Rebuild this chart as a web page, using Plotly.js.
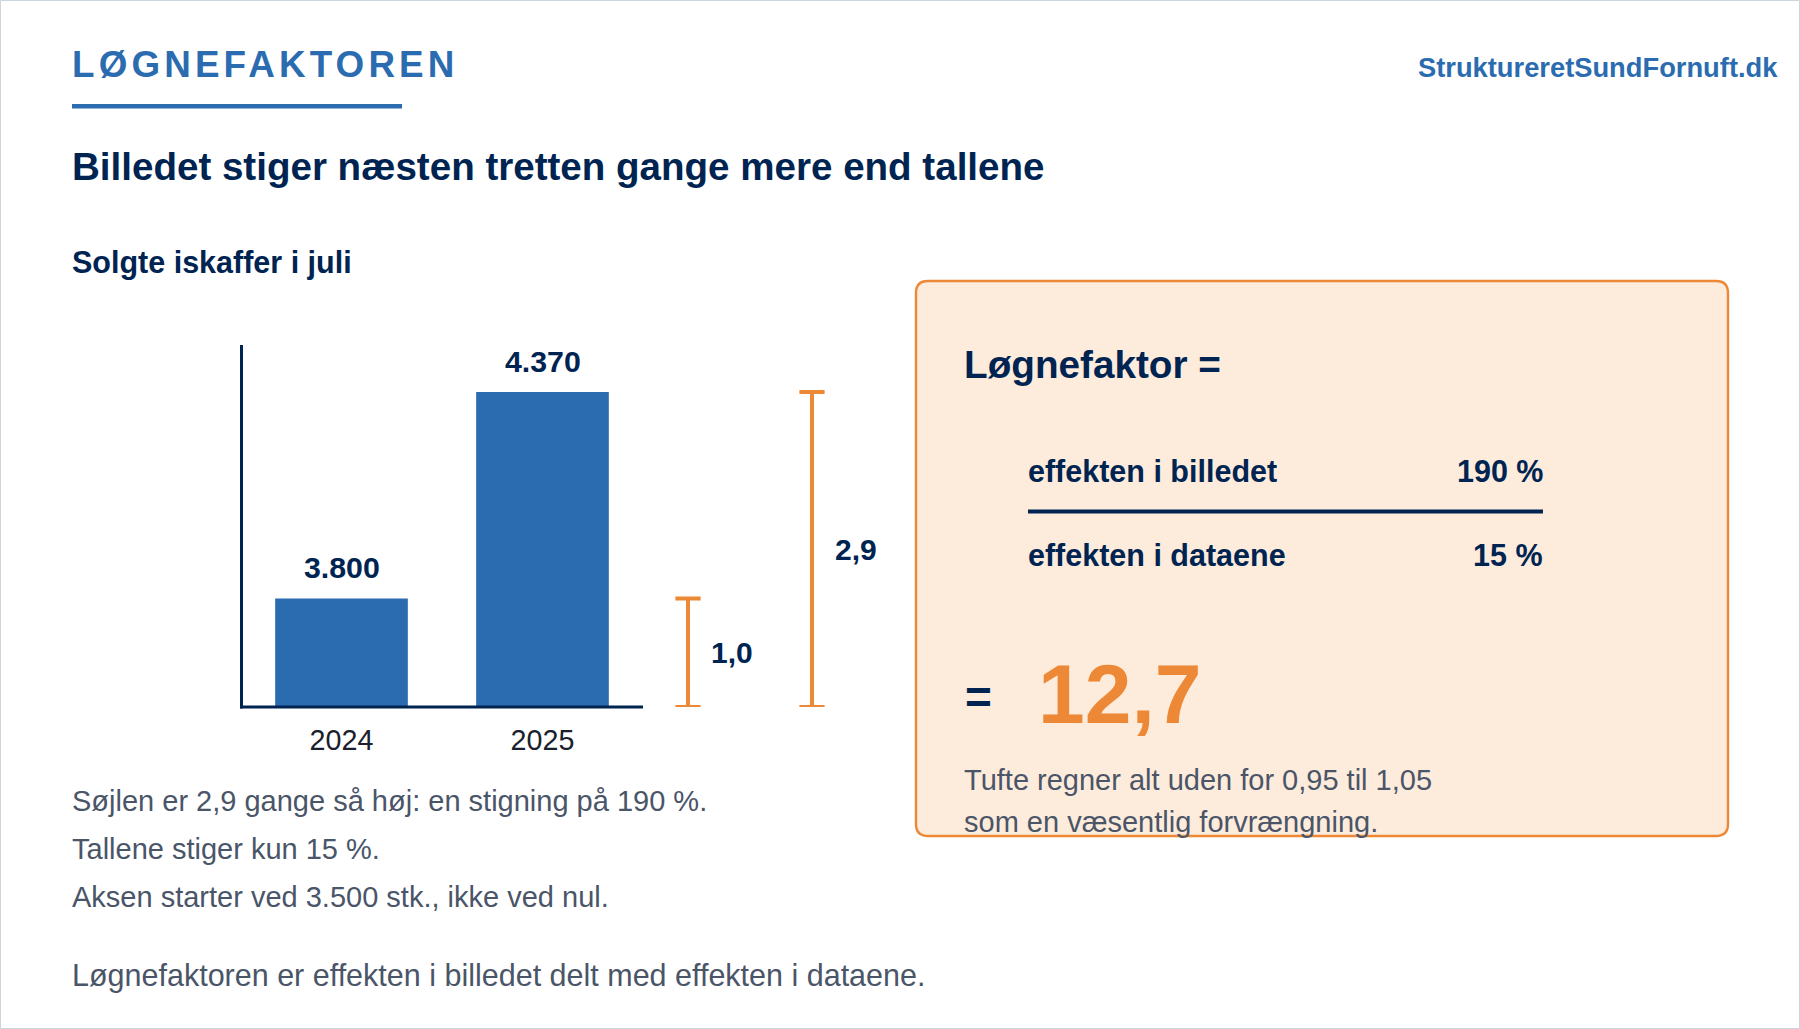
<!DOCTYPE html>
<html><head><meta charset="utf-8">
<script src="https://cdn.plot.ly/plotly-3.0.1.min.js"></script>
<style>
html,body{margin:0;padding:0;background:#fff}
#c{width:1800px;height:1029px}
.annotation[data-index="0"] text{letter-spacing:4.15px}
</style></head><body><div id="c"></div>
<script>
const categories = ['2024','2025'];
const sold = [3800,4370];
const soldLabels = ['3.800','4.370'];
const axisBase = 3500;
const axisTop = 4500;
const ratioLow = [3500,3500];
const ratioHigh = [3800,4370];
const ratioLabels = ['1,0','2,9'];
const NAVY='#002451', BLUE='#2B6CB0', ORANGE='#ED8936', GRAY='#4A5568';
const W=1800,H=1029;
const FONT='"Liberation Sans", Arial, sans-serif';
const px=x=>x/W, py=y=>1-y/H;

function T(text,x,base,size,color,bold,anchor){
  return {text:bold?'<b>'+text+'</b>':text,xref:'paper',yref:'paper',x:px(x),y:py(base+0.212*size+1),
    xanchor:anchor||'left',yanchor:'bottom',showarrow:false,borderpad:1,
    font:{family:FONT,size:size,color:color}};
}
const bracketX=[688,812];
const labelX=[708.5,832.5];

const annotations=[
  T('LØGNEFAKTOREN',70.3+27,78,36.8,BLUE,true),
  T('StruktureretSundFornuft.dk',1780,78.5,27.3,BLUE,true,'right'),
  T('Solgte iskaffer i juli',70.3,274.3,30.5,NAVY,true),
  T('Søjlen er 2,9 gange så høj: en stigning på 190 %.',70.3,812,29,GRAY,false),
  T('Tallene stiger kun 15 %.',70.3,860,29,GRAY,false),
  T('Aksen starter ved 3.500 stk., ikke ved nul.',70.3,908,29,GRAY,false),
  T('Løgnefaktoren er effekten i billedet delt med effekten i dataene.',70.3,988,30.5,GRAY,false),
  T('Løgnefaktor =',961.7,378.3,38.7,NAVY,true),
  T('effekten i billedet',1026,483,30.5,NAVY,true),
  T('190 %',1545.3,483,30.5,NAVY,true,'right'),
  T('effekten i dataene',1026,566.3,30.5,NAVY,true),
  T('15 %',1545.3,566.3,30.5,NAVY,true,'right'),
  T('=',962.7,714,46,NAVY,true),
  T('12,7',1035.7,724,84,ORANGE,true),
  T('Tufte regner alt uden for 0,95 til 1,05',961.7,791,29,GRAY,false),
  T('som en væsentlig forvrængning.',961.7,833,29,GRAY,false)
];
categories.forEach((c,i)=>annotations.push({text:'<b>'+soldLabels[i]+'</b>',x:i,y:sold[i],xref:'x',yref:'y',
  showarrow:false,xanchor:'center',yanchor:'bottom',yshift:12.5,font:{family:FONT,size:30.3,color:NAVY}}));
ratioLabels.forEach((t,i)=>annotations.push({text:'<b>'+t+'</b>',x:labelX[i],y:(ratioLow[i]+ratioHigh[i])/2,xref:'x2',yref:'y',
  showarrow:false,xanchor:'left',yanchor:'middle',font:{family:FONT,size:30,color:NAVY}}));

const r=12,L=916,R=1728,Tp=281,B=836;
const P=(x,y)=>px(x)+','+py(y);
const boxPath='M'+P(L+r,Tp)+' L'+P(R-r,Tp)+' Q'+P(R,Tp)+' '+P(R,Tp+r)+' L'+P(R,B-r)+' Q'+P(R,B)+' '+P(R-r,B)+
  ' L'+P(L+r,B)+' Q'+P(L,B)+' '+P(L,B-r)+' L'+P(L,Tp+r)+' Q'+P(L,Tp)+' '+P(L+r,Tp)+' Z';

const shapes=[
 {type:'rect',xref:'paper',yref:'paper',x0:px(0.5),x1:px(W-0.5),y0:py(H-0.5),y1:py(0.5),line:{color:'#CBD5E0',width:1},layer:'below'},
 {type:'rect',xref:'paper',yref:'paper',x0:px(72),x1:px(402),y0:py(108.5),y1:py(104),fillcolor:BLUE,line:{width:0},layer:'below'},
 {type:'path',xref:'paper',yref:'paper',path:boxPath,fillcolor:'#FDEBDC',line:{color:ORANGE,width:2.4},layer:'below'},
 {type:'line',xref:'paper',yref:'paper',x0:px(1028),x1:px(1543),y0:py(511.5),y1:py(511.5),line:{color:NAVY,width:3.8}},
 {type:'line',xref:'paper',yref:'paper',x0:px(241.5),x1:px(241.5),y0:py(708.5),y1:py(345),line:{color:NAVY,width:3}},
 {type:'line',xref:'paper',yref:'paper',x0:px(240),x1:px(643),y0:py(707),y1:py(707),line:{color:NAVY,width:3.2}}
];

const traces=[
 {type:'bar',x:categories,y:sold,width:0.66,marker:{color:BLUE,line:{width:0}},hoverinfo:'x+y',showlegend:false},
 {type:'scatter',mode:'markers',xaxis:'x2',yaxis:'y',x:bracketX,
  y:ratioHigh.map((h,i)=>(h+ratioLow[i])/2),marker:{size:1,color:'rgba(0,0,0,0)'},
  error_y:{type:'data',symmetric:true,array:ratioHigh.map((h,i)=>(h-ratioLow[i])/2),color:ORANGE,thickness:4,width:12.6},
  cliponaxis:false,showlegend:false,hoverinfo:'skip'}
];

const layout={
 width:W,height:H,margin:{l:0,r:0,t:0,b:0},paper_bgcolor:'#fff',plot_bgcolor:'rgba(0,0,0,0)',
 font:{family:FONT},showlegend:false,
 title:{text:'<b>Billedet stiger næsten tretten gange mere end tallene</b>',xref:'paper',yref:'paper',x:px(72),xanchor:'left',
   y:py(180),yanchor:'bottom',pad:{b:0},font:{family:FONT,size:38.55,color:NAVY}},
 xaxis:{type:'category',domain:[px(241),px(643)],range:[-0.5,1.5],anchor:'y',fixedrange:true,showgrid:false,zeroline:false,
   showline:false,ticks:'',ticklabelstandoff:13,tickfont:{family:FONT,size:28.7,color:'#1A202C'}},
 yaxis:{domain:[py(707),py(345)],range:[axisBase,axisTop],anchor:'x',fixedrange:true,showgrid:false,zeroline:false,
   showline:false,ticks:'',showticklabels:false},
 xaxis2:{domain:[0,1],range:[0,W],anchor:'y',visible:false,fixedrange:true},
 annotations,shapes
};
Plotly.newPlot('c',traces,layout,{displayModeBar:false,staticPlot:true});
</script></body></html>
